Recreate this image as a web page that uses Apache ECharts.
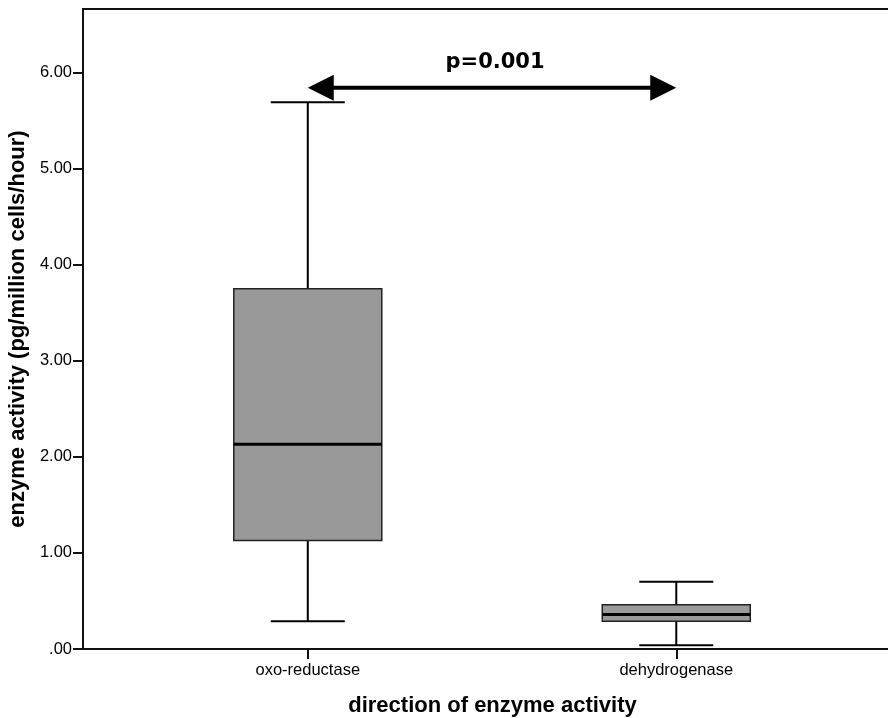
<!DOCTYPE html>
<html>
<head>
<meta charset="utf-8">
<title>Enzyme activity by direction</title>
<script src="https://cdn.jsdelivr.net/npm/echarts@6/dist/echarts.min.js"></script>
<style>
  html, body { margin: 0; padding: 0; background: #fff; }
  #chart { width: 888px; height: 718px; }
</style>
</head>
<body>
<div id="chart"></div>
<script>
// Groups shown on the x axis (positions 1 and 2)
const categories = ['oxo-reductase', 'dehydrogenase'];
const categoryPos = [1, 2];

// Box summaries per group: [lower whisker, Q1, median, Q3, upper whisker]
const oxoReductase = [0.29, 1.13, 2.13, 3.75, 5.69];
const dehydrogenase = [0.04, 0.29, 0.36, 0.46, 0.70];

// Y axis ticks
const yTicks = [0, 1, 2, 3, 4, 5, 6];

// Significance annotation between the two groups
const arrowFrom = 1;
const arrowTo = 2;
const arrowY = 5.84;
const pLabelY = 6.1;
const pLabel = 'p=0.001';

const boxes = [
  [categoryPos[0]].concat(oxoReductase),
  [categoryPos[1]].concat(dehydrogenase)
];

const FONT = '"Liberation Sans", Arial, Helvetica, sans-serif';

function renderBox(params, api) {
  const x = api.value(0);
  const lo = api.coord([x, api.value(1)]);
  const q1 = api.coord([x, api.value(2)]);
  const med = api.coord([x, api.value(3)]);
  const q3 = api.coord([x, api.value(4)]);
  const hi = api.coord([x, api.value(5)]);
  const cx = lo[0];
  const halfBox = 74;
  const halfCap = 37;
  const line = { stroke: '#000', lineWidth: 2 };
  return {
    type: 'group',
    children: [
      { type: 'line', shape: { x1: cx, y1: q3[1], x2: cx, y2: hi[1] }, style: line },
      { type: 'line', shape: { x1: cx, y1: q1[1], x2: cx, y2: lo[1] }, style: line },
      { type: 'line', shape: { x1: cx - halfCap, y1: hi[1], x2: cx + halfCap, y2: hi[1] }, style: line },
      { type: 'line', shape: { x1: cx - halfCap, y1: lo[1], x2: cx + halfCap, y2: lo[1] }, style: line },
      {
        type: 'rect',
        shape: { x: cx - halfBox, y: q3[1], width: halfBox * 2, height: q1[1] - q3[1] },
        style: { fill: '#999999', stroke: '#222', lineWidth: 1.5 }
      },
      { type: 'line', shape: { x1: cx - halfBox, y1: med[1], x2: cx + halfBox, y2: med[1] }, style: { stroke: '#000', lineWidth: 3 } }
    ]
  };
}

function renderArrow(params, api) {
  const a = api.coord([api.value(0), api.value(2)]);
  const b = api.coord([api.value(1), api.value(2)]);
  const t = api.coord([(api.value(0) + api.value(1)) / 2, api.value(3)]);
  const headLen = 26;
  const headHalf = 13;
  const y = a[1];
  return {
    type: 'group',
    children: [
      { type: 'line', shape: { x1: a[0] + headLen - 2, y1: y, x2: b[0] - headLen + 2, y2: y }, style: { stroke: '#000', lineWidth: 4 } },
      { type: 'polygon', shape: { points: [[a[0], y], [a[0] + headLen, y - headHalf], [a[0] + headLen, y + headHalf]] }, style: { fill: '#000' } },
      { type: 'polygon', shape: { points: [[b[0], y], [b[0] - headLen, y - headHalf], [b[0] - headLen, y + headHalf]] }, style: { fill: '#000' } },
      {
        type: 'text',
        x: t[0] + 3, y: t[1],
        style: {
          text: pLabel,
          fill: '#000',
          font: 'bold 21px "DejaVu Sans", Verdana, sans-serif',
          align: 'center',
          verticalAlign: 'middle'
        }
      }
    ]
  };
}

const chart = echarts.init(document.getElementById('chart'), null, { renderer: 'canvas' });

chart.setOption({
  animation: false,
  backgroundColor: '#fff',
  grid: {
    left: 83, top: 9, right: -2, bottom: 69,
    outerBoundsMode: 'none',
    containLabel: false,
    show: true, borderColor: '#111', borderWidth: 2, backgroundColor: 'transparent'
  },
  xAxis: {
    type: 'value',
    min: 0.39,
    max: 2.58,
    name: 'direction of enzyme activity',
    nameLocation: 'middle',
    nameGap: 46,
    nameTextStyle: { fontFamily: FONT, fontWeight: 'bold', fontSize: 22, color: '#000', padding: [0, 0, 0, 12] },
    splitLine: { show: false },
    axisLine: { show: true, lineStyle: { color: '#111', width: 2 } },
    axisTick: { show: true, customValues: categoryPos, length: 10, inside: false, lineStyle: { color: '#111', width: 2 } },
    axisLabel: {
      customValues: categoryPos,
      formatter: function (v) {
        const i = categoryPos.indexOf(v);
        return i >= 0 ? categories[i] : '';
      },
      fontFamily: FONT, fontSize: 16.5, color: '#000', margin: 13
    }
  },
  yAxis: {
    type: 'value',
    min: 0,
    max: 6.66,
    interval: 1,
    name: 'enzyme activity (pg/million cells/hour)',
    nameLocation: 'middle',
    nameGap: 44,
    nameTextStyle: { fontFamily: FONT, fontWeight: 'bold', fontSize: 22, color: '#000' },
    splitLine: { show: false },
    axisLine: { show: true, lineStyle: { color: '#111', width: 2 } },
    axisTick: { show: true, customValues: yTicks, length: 10, lineStyle: { color: '#111', width: 2 } },
    axisLabel: {
      customValues: yTicks,
      formatter: function (v) { return v === 0 ? '.00' : v.toFixed(2); },
      fontFamily: FONT, fontSize: 16.5, color: '#000', margin: 11
    }
  },
  series: [
    {
      type: 'custom',
      name: 'boxes',
      renderItem: renderBox,
      data: boxes,
      encode: { x: 0, y: [1, 2, 3, 4, 5] },
      clip: false
    },
    {
      type: 'custom',
      name: 'significance',
      renderItem: renderArrow,
      data: [[arrowFrom, arrowTo, arrowY, pLabelY]],
      encode: { x: [0, 1], y: [2, 3] },
      clip: false
    }
  ]
});
</script>
</body>
</html>
